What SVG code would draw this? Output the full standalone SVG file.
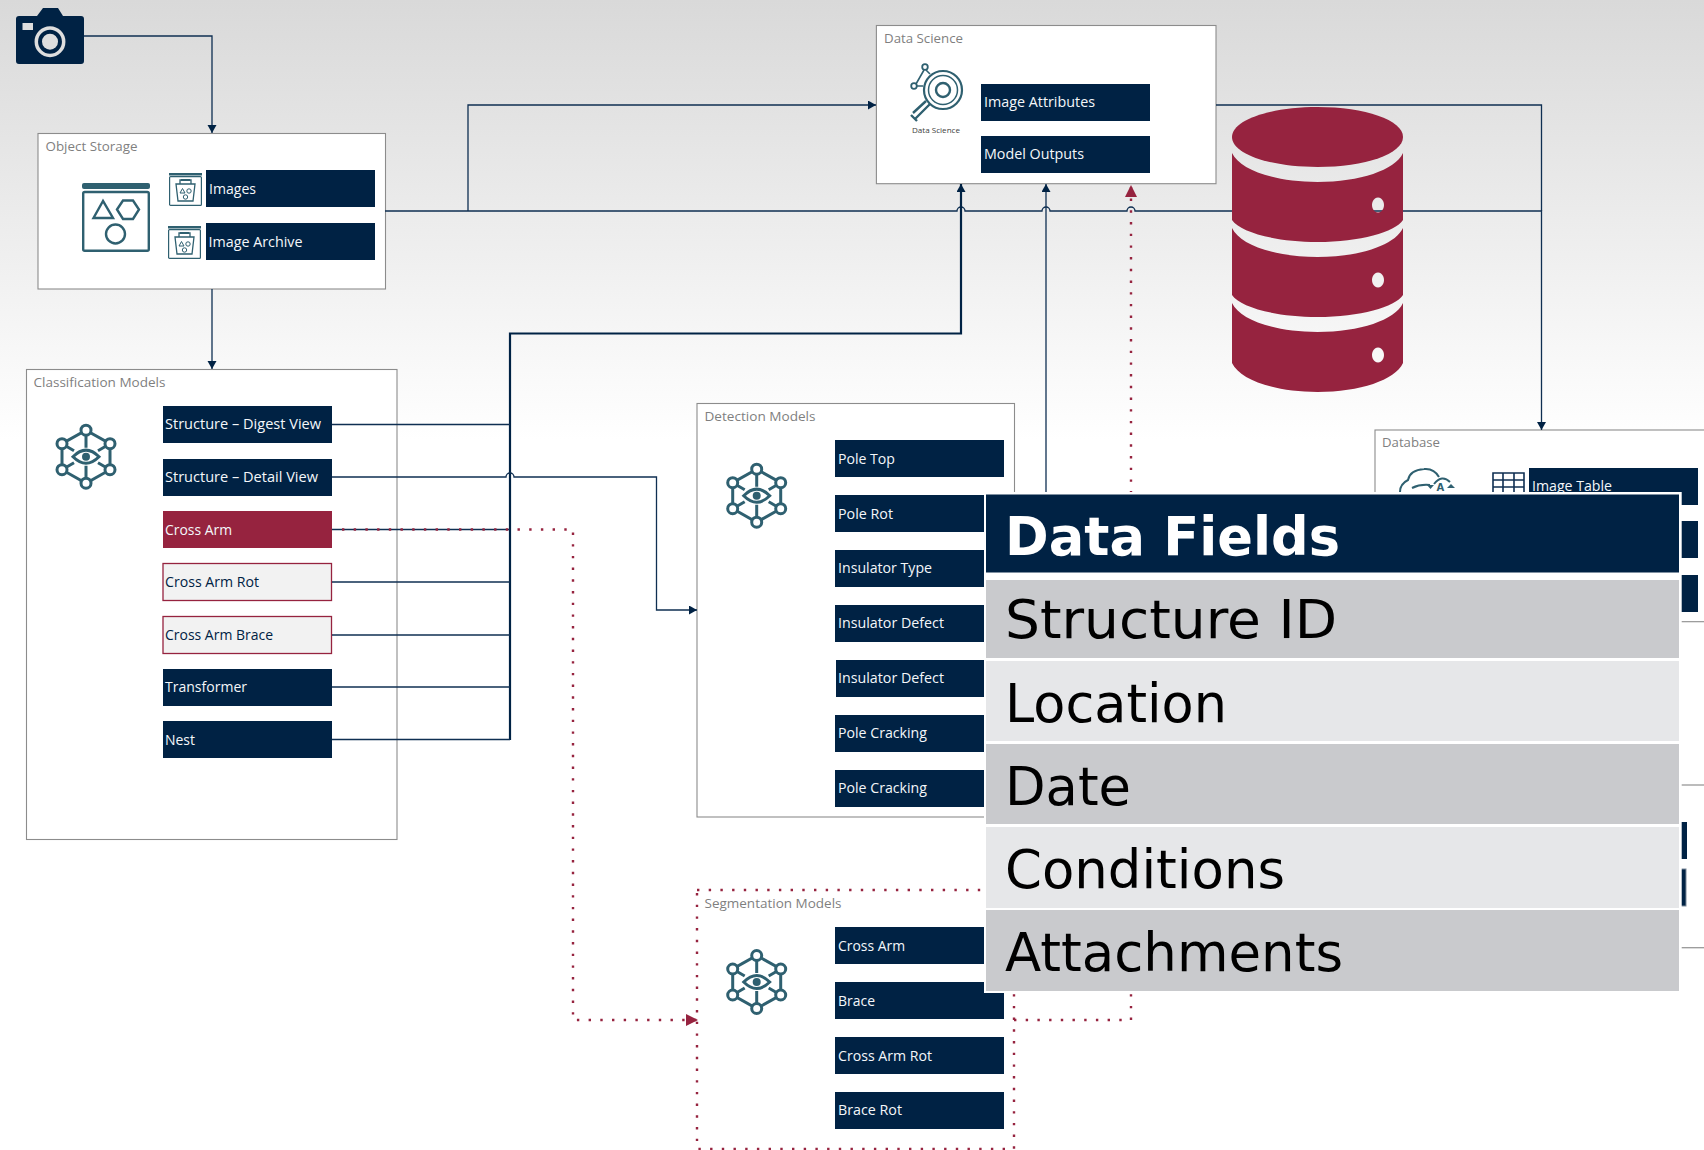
<svg xmlns="http://www.w3.org/2000/svg" xmlns:xlink="http://www.w3.org/1999/xlink" width="1704" height="1150" viewBox="0 0 1704 1150">
<style>
.box{fill:#fff;stroke:#8c8c8c;stroke-width:1.1}
.bar{fill:#002244}
.barred{fill:#96233f}
.barlight{fill:#f2f2f2;stroke:#96233f;stroke-width:1.3}
.t{font-family:"Open Sans","Noto Sans",sans-serif;font-size:14.5px;fill:#f4f7fa}
.td{font-family:"Open Sans","Noto Sans",sans-serif;font-size:14.5px;fill:#002244}
.g{font-family:"Open Sans","Noto Sans",sans-serif;font-size:13px;fill:#7f7f7f}
.p{font-family:"DejaVu Sans",sans-serif;font-size:53.3px;fill:#000}
.ph{font-family:"DejaVu Sans",sans-serif;font-size:53.3px;font-weight:700;fill:#fff}
.ln{fill:none;stroke:#0f2f52;stroke-width:1.3}
.lt{fill:none;stroke:#002244;stroke-width:2.2}
.dot{fill:none;stroke:#96233f;stroke-width:2.4;stroke-dasharray:2.4 9.3}
.ic{fill:none;stroke:#2f6070;stroke-width:2.4}
.nt{fill:none;stroke:#2f6070;stroke-width:3}
</style>
<defs>
<linearGradient id="bg" x1="0" y1="0" x2="0" y2="440" gradientUnits="userSpaceOnUse"><stop offset="0" stop-color="#d9d9d9"/><stop offset="1" stop-color="#fff"/></linearGradient>
<marker id="a" markerUnits="userSpaceOnUse" markerWidth="10" markerHeight="10" refX="8" refY="4.5" orient="auto"><path d="M0 0L8 4.5L0 9z" fill="#002244"/></marker>
<marker id="r" markerUnits="userSpaceOnUse" markerWidth="14" markerHeight="14" refX="12" refY="6" orient="auto"><path d="M0 0L12 6L0 12z" fill="#96233f"/></marker>
<symbol id="net" overflow="visible">
<g class="nt"><path d="M0-26.500L24-13V13L0 26.500L-24 13V-13zM0-26.500V-9M0 26.500V9M-24-13L-12-6M24-13L12-6M-24 13L-12 6M24 13L12 6"/><path d="M-13 0Q0-13 13 0Q0 13-13 0z" fill="#fff"/><circle r="4" fill="#2f6070" stroke="none"/>
<g fill="#fff"><circle cy="-26.500" r="5"/><circle cy="26.500" r="5"/><circle cx="-24" cy="-13" r="5"/><circle cx="24" cy="-13" r="5"/><circle cx="-24" cy="13" r="5"/><circle cx="24" cy="13" r="5"/></g></g>
</symbol>
<symbol id="bucket" overflow="visible">
<rect x="0" y="0" width="33" height="2.500" fill="#2f6070"/>
<rect x=".6" y="3.600" width="31.800" height="28.800" rx="1" fill="#fff" stroke="#2f6070" stroke-width="1.200"/>
<path d="M7 11H26L24 28H9zM11 11V7H22V11" fill="none" stroke="#2f6070" stroke-width="1.300"/>
<rect x="12" y="6" width="9" height="2" fill="#2f6070"/>
<path d="M13.500 15.500L11 20H16z" fill="none" stroke="#2f6070"/><circle cx="20" cy="18" r="2.200" fill="none" stroke="#2f6070"/><circle cx="16.500" cy="24" r="2.200" fill="none" stroke="#2f6070"/>
</symbol>
</defs>
<rect id="background" width="1704" height="1150" fill="url(#bg)"/>

<g id="camera">
<path d="M19 16H37L43 8H58L63 16H81Q84 16 84 19V61Q84 64 81 64H19Q16 64 16 61V19Q16 16 19 16z" fill="#002244"/>
<rect x="22.500" y="23" width="10.500" height="7" fill="#dedede"/>
<circle cx="50" cy="41.700" r="13.700" fill="none" stroke="#dedede" stroke-width="3.500"/>
<circle cx="50" cy="41.700" r="8" fill="#dedede"/>
</g>

<g id="object-storage">
<rect class="box" x="38" y="133.500" width="347.500" height="155.500"/>
<text class="g" x="45.500" y="151" textLength="92" lengthAdjust="spacingAndGlyphs">Object Storage</text>
<rect x="82" y="183" width="68" height="6" rx="2" fill="#2f6070"/>
<rect x="83.200" y="192" width="65.600" height="58.800" rx="1.500" class="ic"/>
<path d="M103 201L93.500 218H113z" class="ic"/>
<path d="M117 209.500L123 200.500H133L139 209.500L133 219H123z" class="ic"/>
<circle cx="115.500" cy="234" r="9.500" class="ic"/>
<use href="#bucket" x="169" y="173"/>
<use href="#bucket" x="168" y="226"/>
<rect class="bar" x="206" y="170" width="169" height="37"/>
<text class="t" x="209" y="194" textLength="47" lengthAdjust="spacingAndGlyphs">Images</text>
<rect class="bar" x="206" y="223" width="169" height="37"/>
<text class="t" x="208.500" y="247" textLength="94" lengthAdjust="spacingAndGlyphs">Image Archive</text>
</g>

<g id="data-science">
<rect class="box" x="876.400" y="25.500" width="339.600" height="158.200"/>
<text class="g" x="884" y="43" textLength="79" lengthAdjust="spacingAndGlyphs">Data Science</text>
<g fill="none" stroke="#2f6070">
<circle cx="943" cy="90" r="19" stroke-width="2.200"/><circle cx="943" cy="90" r="14.500" stroke-width="1.500"/><circle cx="943" cy="90" r="7" stroke-width="2.400"/>
<path d="M930 104L915 119M926 101L913 113M911 115L917 121" stroke-width="2.400"/>
<circle cx="925" cy="67" r="2.800" stroke-width="1.800"/><circle cx="914" cy="86" r="2.800" stroke-width="1.800"/>
<path d="M924 70L916 84M917 86H923M926 70L930 74" stroke-width="1.600"/>
</g>
<text x="936" y="133" text-anchor="middle" font-family="'Open Sans','Noto Sans',sans-serif" font-size="8" fill="#404040" textLength="48" lengthAdjust="spacingAndGlyphs">Data Science</text>
<rect class="bar" x="981" y="84" width="169" height="37"/>
<text class="t" x="984" y="107" textLength="111" lengthAdjust="spacingAndGlyphs">Image Attributes</text>
<rect class="bar" x="981" y="136" width="169" height="37"/>
<text class="t" x="984" y="159" textLength="100" lengthAdjust="spacingAndGlyphs">Model Outputs</text>
</g>

<g id="classification-models">
<rect class="box" x="26.500" y="369.500" width="370.500" height="470"/>
<text class="g" x="33.500" y="387" textLength="132" lengthAdjust="spacingAndGlyphs">Classification Models</text>
<use href="#net" x="86" y="456.700"/>
<rect class="bar" x="163" y="406" width="169" height="37"/>
<text class="t" x="165" y="429" textLength="156" lengthAdjust="spacingAndGlyphs">Structure – Digest View</text>
<rect class="bar" x="163" y="459" width="169" height="37"/>
<text class="t" x="165" y="482" textLength="153" lengthAdjust="spacingAndGlyphs">Structure – Detail View</text>
<rect class="barred" x="163" y="511" width="169" height="37"/>
<text class="t" x="165" y="535" textLength="67" lengthAdjust="spacingAndGlyphs">Cross Arm</text>
<rect class="barlight" x="163" y="563.500" width="168.500" height="37"/>
<text class="td" x="165" y="587" textLength="94" lengthAdjust="spacingAndGlyphs">Cross Arm Rot</text>
<rect class="barlight" x="163" y="616.500" width="168.500" height="37"/>
<text class="td" x="165" y="640" textLength="108" lengthAdjust="spacingAndGlyphs">Cross Arm Brace</text>
<rect class="bar" x="163" y="669" width="169" height="37"/>
<text class="t" x="165" y="692" textLength="82" lengthAdjust="spacingAndGlyphs">Transformer</text>
<rect class="bar" x="163" y="721" width="169" height="37"/>
<text class="t" x="165" y="745" textLength="30" lengthAdjust="spacingAndGlyphs">Nest</text>
</g>

<g id="detection-models">
<rect class="box" x="697" y="403.500" width="317.500" height="413.500"/>
<text class="g" x="704.500" y="421" textLength="111" lengthAdjust="spacingAndGlyphs">Detection Models</text>
<use href="#net" x="756.700" y="495.700"/>
<rect class="bar" x="835" y="440" width="169" height="37"/>
<text class="t" x="838" y="464" textLength="57" lengthAdjust="spacingAndGlyphs">Pole Top</text>
<rect class="bar" x="835" y="495" width="169" height="37"/>
<text class="t" x="838" y="519" textLength="55" lengthAdjust="spacingAndGlyphs">Pole Rot</text>
<rect class="bar" x="835" y="550" width="169" height="37"/>
<text class="t" x="838" y="573" textLength="94" lengthAdjust="spacingAndGlyphs">Insulator Type</text>
<rect class="bar" x="835" y="605" width="169" height="37"/>
<text class="t" x="838" y="628" textLength="106" lengthAdjust="spacingAndGlyphs">Insulator Defect</text>
<rect class="bar" x="836" y="660" width="169" height="37"/>
<text class="t" x="838" y="683" textLength="106" lengthAdjust="spacingAndGlyphs">Insulator Defect</text>
<rect class="bar" x="835" y="715" width="169" height="37"/>
<text class="t" x="838" y="738" textLength="89" lengthAdjust="spacingAndGlyphs">Pole Cracking</text>
<rect class="bar" x="835" y="770" width="169" height="37"/>
<text class="t" x="838" y="793" textLength="89" lengthAdjust="spacingAndGlyphs">Pole Cracking</text>
</g>

<g id="segmentation-models">
<rect class="dot" x="697" y="890" width="317" height="259"/>
<text class="g" x="704.500" y="908" textLength="137" lengthAdjust="spacingAndGlyphs">Segmentation Models</text>
<use href="#net" x="756.700" y="982"/>
<rect class="bar" x="835" y="927" width="169" height="37"/>
<text class="t" x="838" y="951" textLength="67" lengthAdjust="spacingAndGlyphs">Cross Arm</text>
<rect class="bar" x="835" y="982" width="169" height="37"/>
<text class="t" x="838" y="1006" textLength="37" lengthAdjust="spacingAndGlyphs">Brace</text>
<rect class="bar" x="835" y="1037" width="169" height="37"/>
<text class="t" x="838" y="1061" textLength="94" lengthAdjust="spacingAndGlyphs">Cross Arm Rot</text>
<rect class="bar" x="835" y="1092" width="169" height="37"/>
<text class="t" x="838" y="1115" textLength="64" lengthAdjust="spacingAndGlyphs">Brace Rot</text>
</g>

<g id="database">
<rect class="box" x="1375" y="430" width="340" height="191.700"/>
<text class="g" x="1382" y="447" textLength="58" lengthAdjust="spacingAndGlyphs">Database</text>
<path d="M1400 492Q1400 484 1408 480Q1410 470 1424 469Q1434 468 1439 477" fill="none" stroke="#2f6070" stroke-width="2"/>
<path d="M1434 484Q1442 474 1450 482M1412 488Q1420 484 1430 485" fill="none" stroke="#2f6070" stroke-width="2"/>
<path d="M1427 485H1434L1430.500 489z" fill="#2f6070"/>
<text x="1436.500" y="491" font-family="'DejaVu Sans',sans-serif" font-size="10" font-weight="700" fill="#2f6070">A</text>
<path d="M1451 484L1455 488H1447z" fill="#2f6070"/>
<path d="M1493 473H1524V495H1493zM1493 480H1524M1493 487H1524M1503 473V495M1514 473V495" fill="none" stroke="#0f2f52" stroke-width="1.600"/>
<rect class="bar" x="1529" y="468" width="169" height="37"/>
<text class="t" x="1532" y="491" textLength="80" lengthAdjust="spacingAndGlyphs">Image Table</text>
<rect class="bar" x="1529" y="521" width="169" height="37"/>
<rect class="bar" x="1529" y="575" width="169" height="37"/>
</g>

<g id="hidden-box">
<rect x="1400" y="785" width="340" height="162.700" fill="#fff" stroke="#999" stroke-width="1.300"/>
<rect class="bar" x="1500" y="822" width="187" height="37"/>
<rect class="bar" x="1500" y="869" width="186" height="37" stroke="#7d8a99"/>
</g>

<g id="connectors">
<path class="ln" d="M84 36H212V133" marker-end="url(#a)"/>
<path class="ln" d="M212 289V369" marker-end="url(#a)"/>
<path class="ln" d="M385 211H957a4 4 0 0 1 8 0H1042a4 4 0 0 1 8 0H1127a4 4 0 0 1 8 0H1541.500V430" marker-end="url(#a)"/>
<path class="ln" d="M468 211V105H876" marker-end="url(#a)"/>
<path class="ln" d="M1216 105H1541.500V211"/>
<path class="lt" d="M510 740V333.500H961V184" marker-end="url(#a)"/>
<path class="ln" d="M1046 492V184" marker-end="url(#a)"/>
<path class="ln" d="M332 424.500H510"/>
<path class="ln" d="M332 477H506a4 4 0 0 1 8 0H656.500V610H697" marker-end="url(#a)"/>
<path class="ln" d="M332 529.500H510"/>
<path class="ln" d="M332 582H510"/>
<path class="ln" d="M332 635H510"/>
<path class="ln" d="M332 687H510"/>
<path class="ln" d="M332 739.500H510"/>
<path class="dot" d="M342 529.500H573V1020H698" marker-end="url(#r)"/>
<path class="dot" d="M1014 1020H1131V185" marker-end="url(#r)"/>
</g>

<g id="storage-cylinder">
<path fill="#96233f" d="M1232 137C1232 120 1270 107 1317.500 107S1403 120 1403 137S1365 167 1317.500 167S1232 154 1232 137z"/>
<path fill="#96233f" fill-rule="evenodd" d="M1232 153C1240 170 1275 182 1317.500 182S1395 170 1403 153V220C1395 232 1360 242 1317.500 242S1240 232 1232 220zM1378 197.500a6 7.500 0 1 0 .01 0z"/>
<path fill="#96233f" fill-rule="evenodd" d="M1232 228C1240 245 1275 257 1317.500 257S1395 245 1403 228V295C1395 307 1360 317 1317.500 317S1240 307 1232 295zM1378 272.500a6 7.500 0 1 0 .01 0z"/>
<path fill="#96233f" fill-rule="evenodd" d="M1232 303C1240 320 1275 332 1317.500 332S1395 320 1403 303V363C1395 380 1360 392 1317.500 392S1240 380 1232 363zM1378 347.500a6 7.500 0 1 0 .01 0z"/>
</g>

<g id="data-fields">
<rect x="984" y="492" width="697.700" height="501" fill="#fff"/>
<rect x="986" y="494.500" width="693" height="78" fill="#002244"/>
<text class="ph" x="1005" y="555" textLength="335" lengthAdjust="spacingAndGlyphs">Data Fields</text>
<rect x="986" y="580" width="693" height="78" fill="#c9cacd"/>
<text class="p" x="1005" y="638" textLength="332" lengthAdjust="spacingAndGlyphs">Structure ID</text>
<rect x="986" y="661" width="693" height="80" fill="#e6e7e9"/>
<text class="p" x="1005" y="722" textLength="222" lengthAdjust="spacingAndGlyphs">Location</text>
<rect x="986" y="744" width="693" height="80" fill="#c9cacd"/>
<text class="p" x="1005" y="805" textLength="126" lengthAdjust="spacingAndGlyphs">Date</text>
<rect x="986" y="827" width="693" height="81" fill="#e6e7e9"/>
<text class="p" x="1005" y="888" textLength="280" lengthAdjust="spacingAndGlyphs">Conditions</text>
<rect x="986" y="910" width="693" height="81" fill="#c9cacd"/>
<text class="p" x="1005" y="971" textLength="338" lengthAdjust="spacingAndGlyphs">Attachments</text>
</g>
</svg>
